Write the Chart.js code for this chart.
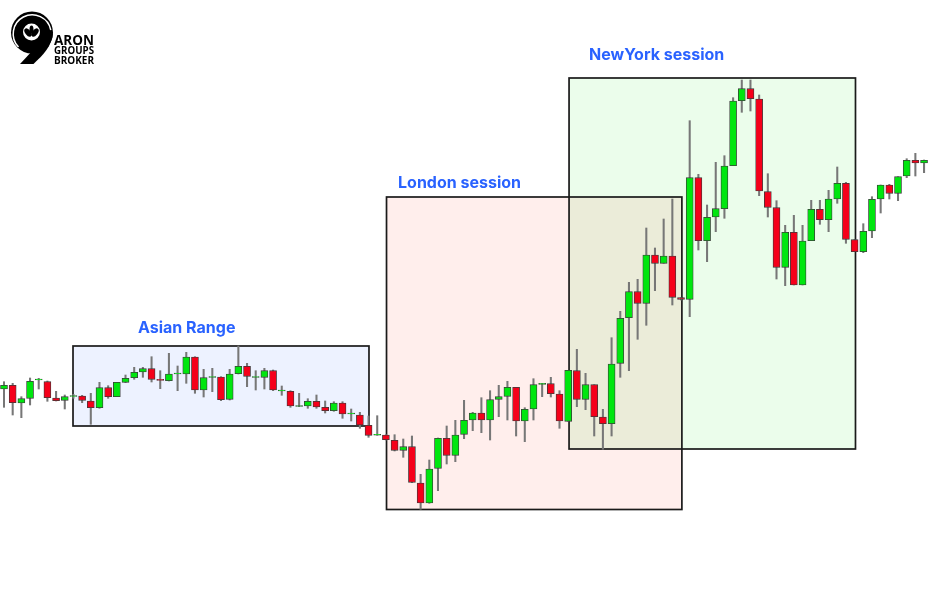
<!DOCTYPE html>
<html>
<head>
<meta charset="utf-8">
<title>Trading sessions</title>
<script src="https://cdn.jsdelivr.net/npm/chart.js@4"></script>
<style>
    html, body { margin: 0; padding: 0; background: #fff; }
    #wrap { position: relative; width: 931px; height: 600px; overflow: hidden; }
    #chart { position: absolute; left: 0; top: 0; }
    #logo { position: absolute; left: 0; top: 0; }
    #logo text { font-family: "Open Sans", sans-serif; font-weight: 700; fill: #000; }
</style>
</head>
<body>
<div id="wrap">
    <canvas id="chart" width="931" height="600"></canvas>
    <svg id="logo" width="110" height="75">
        <circle cx="32" cy="32.5" r="21" fill="#000"/>
        <path d="M18.5 47 A19 19 0 1 1 50.8 30" fill="none" stroke="#fff" stroke-width="1.5"/>
        <path d="M53 33 C52 46 43 55 33.5 64 L20 64 L34 49 Z" fill="#000"/>
        <circle cx="31.5" cy="32" r="8.5" fill="#fff"/>
        <ellipse cx="28" cy="32.5" rx="2.7" ry="4.8" fill="#000" transform="rotate(-38 28 32.5)"/>
        <ellipse cx="35" cy="32.5" rx="2.7" ry="4.8" fill="#000" transform="rotate(38 35 32.5)"/>
        <ellipse cx="31.5" cy="29.5" rx="2" ry="4" fill="#000"/>
        <text x="54" y="45" font-size="14" textLength="40" lengthAdjust="spacingAndGlyphs">ARON</text>
        <text x="54" y="54" font-size="10.5" textLength="40" lengthAdjust="spacingAndGlyphs">GROUPS</text>
        <text x="54" y="63.5" font-size="10.5" textLength="40" lengthAdjust="spacingAndGlyphs">BROKER</text>
    </svg>
</div>
<script>
// price values, candle by candle, ten per row
const highs = [
    218.3,216.7,203.3,222,221.7,219,208.7,205,205.7,204.7,
    206.7,217.7,214.3,217.7,225,232.7,232.7,243.3,229.3,246.7,
    234,247.7,243.3,230.7,231.7,223.3,230.7,254,236.7,229.3,
    231.7,230,214,209.3,206.7,201.3,205,199,198.3,198.3,
    191,187.7,184,184.3,165.3,165.3,161,164,125.7,140,
    162,174,179.7,199.7,187.7,202.3,209.3,214.7,218.7,212.7,
    192.3,221.3,216.7,222.7,209.3,229.7,250.7,226.7,215.3,190.7,
    262.3,288.7,317.7,320.7,372,352,381,401,302.3,479.3,
    425.7,395,437.7,444.3,502.3,520,520,505,426.3,399.3,
    374.7,384.7,374.7,399.7,399.7,409.7,433,417.7,360.7,376.3,
    403.3,415,415.7,423.3,441.3,446.7,440
];
const opens = [
    211,214.7,197,201.7,220,218.3,202,199.7,203.5,204,
    199,192.3,212.3,203.3,217.7,222.3,228,231.3,220.7,219.3,
    226,226,243,210,222.7,223,200.7,226.3,233.7,222.7,
    222.7,229.3,209,208.7,193.6,194,198.7,192.7,189.3,197,
    186.2,185,174.7,164.9,165,159.7,149.7,153.3,117,97,
    131.7,161.7,144.7,165.7,180,187,180,200.7,203.7,212.7,
    179,191,215.7,216.3,206,178.7,229.3,200.7,215.3,183,
    176.3,236.7,282.3,308.3,296.7,345,336.7,344,302.3,300.7,
    422.3,359.3,383,391.3,434.3,499.3,511.3,501,408.3,392.3,
    332.7,367.7,315,359.3,390.7,380.3,401,416.7,360.3,348.3,
    369,401,415,406.7,424,439.7,437
];
const closes = [
    214.7,197.3,201.3,218.7,220.8,202.3,199.3,203.3,204.4,199.7,
    192.3,212.3,203.3,217.7,221.7,227.7,231.3,220.7,219.7,226,
    226.8,243,210,222.3,223.5,200.3,226,233.7,223.7,223.5,
    229.3,210,209.8,194,194.4,198.7,193,189.3,197,186,
    187,175,164.7,165.7,160.3,149.7,153.3,117.7,97,131,
    161.7,144.7,165,179.7,187,180,200.3,203.3,212.7,179,
    190.7,215.3,216.7,206.3,179,229.7,200.7,215.3,183.3,176.3,
    236,281.7,308.3,296.7,345,336.7,344,302.7,300.7,422.3,
    359.3,382.7,391.3,434,499,511.3,501.3,409,392.7,332.7,
    367.7,315,359,390.7,380.3,401,416.7,360.7,348.3,368.7,
    400.7,415,406.7,423.3,439.7,437,439.7
];
const lows = [
    192.7,185,182.3,195,211,198.7,199,191,201.7,197.3,
    175.7,191.7,201.7,203.3,217.3,220.7,222.7,218,211.3,219,
    209.3,216.7,206.7,203,208.3,199.3,200,226,213.3,210,
    211,209.3,204.7,192.7,193.3,191.7,191.7,187,188.7,181.7,
    179,171.7,162.7,164.7,160,149,142.7,117.3,90.7,96.7,
    109.3,136,138.3,161.3,169.3,167.3,160,183.3,180,164,
    158.3,180,203.3,203,171.7,178.7,193.3,190.3,164,150.7,
    164,222.7,229.3,260.7,274.7,309.3,336.7,295,300,283.3,
    350,338.3,368.3,381.7,434.3,487.7,489,404.3,383,321,
    314.3,315,315,359.3,375.7,368.3,396.7,356.7,348.3,347.3,
    362.3,387,401,399.3,422.3,424,427.3
];

// the three boxes: first and last candle position, price range
const sessionNames = ['Asian Range', 'London session', 'NewYork session'];
const sessionStart = [7.95, 44.07, 65.1];
const sessionEnd = [42.05, 78.1, 98.1];
const sessionLow = [174, 90.5, 151];
const sessionHigh = [254, 403, 522];

const sessionFill = ['#edf2ff', '#ffeeec', '#ebfdeb'];
const labelGap = [65, 11.5, 20]; // label start, px from the left edge of the box
const labelRise = [13, 9, 18];   // label baseline, px above the box
const upColor = '#00e60f';
const downColor = '#f5001a';

const indexes = highs.map((h, i) => i);

const sessionBoxes = {
    id: 'sessionBoxes',
    beforeDatasetsDraw(chart) {
        const { ctx, scales: { x, y } } = chart;
        ctx.save();
        // multiply gives the olive colour where London and New York overlap
        ctx.globalCompositeOperation = 'multiply';
        sessionNames.forEach((name, i) => {
            ctx.fillStyle = sessionFill[i];
            ctx.fillRect(x.getPixelForValue(sessionStart[i]), y.getPixelForValue(sessionHigh[i]),
                x.getPixelForValue(sessionEnd[i]) - x.getPixelForValue(sessionStart[i]),
                y.getPixelForValue(sessionLow[i]) - y.getPixelForValue(sessionHigh[i]));
        });
        ctx.globalCompositeOperation = 'source-over';
        ctx.strokeStyle = '#1a1a1a';
        ctx.lineWidth = 1.7;
        ctx.font = '700 16px Inter, sans-serif';
        ctx.textBaseline = 'alphabetic';
        sessionNames.forEach((name, i) => {
            const left = x.getPixelForValue(sessionStart[i]);
            const top = y.getPixelForValue(sessionHigh[i]);
            ctx.strokeRect(left, top, x.getPixelForValue(sessionEnd[i]) - left, y.getPixelForValue(sessionLow[i]) - top);
            ctx.fillStyle = '#2962ff';
            ctx.fillText(name, left + labelGap[i], top - labelRise[i]);
        });
        ctx.restore();
    }
};

new Chart(document.getElementById('chart'), {
    type: 'bar',
    data: {
        datasets: [
            {
                label: 'Body',
                order: 1,
                grouped: false,
                barThickness: 7,
                data: indexes.map(i => ({ x: i, y: [opens[i], closes[i]] })),
                backgroundColor: indexes.map(i => closes[i] >= opens[i] ? upColor : downColor),
                borderColor: '#3a3a3a',
                borderWidth: 0.8,
                borderSkipped: false
            },
            {
                label: 'Wick',
                order: 2,
                grouped: false,
                barThickness: 1.4,
                data: indexes.map(i => ({ x: i, y: [lows[i], highs[i]] })),
                backgroundColor: '#777',
                borderWidth: 0
            }
        ]
    },
    options: {
        responsive: false,
        animation: false,
        layout: { padding: 0 },
        plugins: { legend: { display: false }, tooltip: { enabled: false } },
        scales: {
            x: { type: 'linear', display: false, offset: false, min: -0.461, max: 106.8 },
            y: { display: false, min: 0, max: 600 }
        }
    },
    plugins: [sessionBoxes]
});
</script>
</body>
</html>
